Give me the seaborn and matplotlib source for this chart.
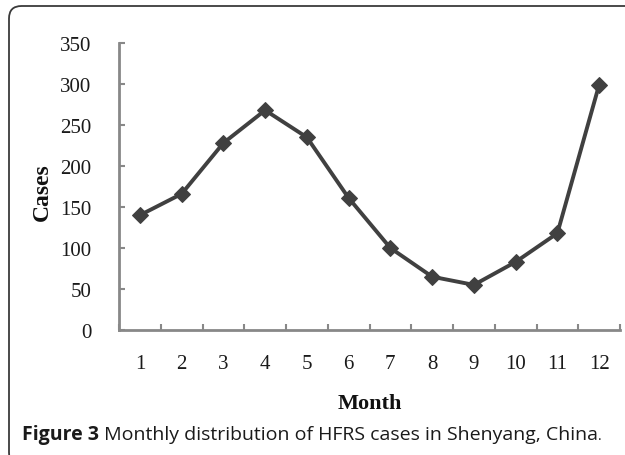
import numpy as np
import pandas as pd
import matplotlib
matplotlib.use("Agg")
import matplotlib.pyplot as plt
import seaborn as sns
from matplotlib.patches import FancyBboxPatch
from matplotlib.ticker import FixedLocator

months = ["1", "2", "3", "4", "5", "6", "7", "8", "9", "10", "11", "12"]
cases = [140, 166, 228, 268, 235, 161, 100, 65, 55, 83, 118, 299]
y_ticks = [0, 50, 100, 150, 200, 250, 300, 350]
x_label = "Month"
y_label = "Cases"
caption_bold = "Figure 3"
caption_text = " Monthly distribution of HFRS cases in Shenyang, China"

sns.set_theme(style="white")
plt.rcParams["font.family"] = ["Liberation Serif", "DejaVu Serif"]

W, H = 625, 456
fig = plt.figure(figsize=(W / 100, H / 100), dpi=100)
fig.patch.set_facecolor("white")

# outer rounded frame (extends past right and bottom edges)
frame = FancyBboxPatch((9 / W, -10 / H), (720 - 9) / W, (H - 7 + 10) / H,
                       boxstyle="round,pad=0,rounding_size=0.02",
                       transform=fig.transFigure, fill=False,
                       edgecolor="#3a3a3a", linewidth=1.3, mutation_aspect=W / H)
fig.patches.append(frame)

ax = fig.add_axes([119 / W, 1 - 331 / H, (620 - 119) / W, (331 - 44) / H])
ax.set_facecolor("none")

df = pd.DataFrame({"pos": np.arange(len(months)), "cases": cases})
sns.lineplot(data=df, x="pos", y="cases", ax=ax, sort=False,
             color="#404040", linewidth=2.8, marker="D", markersize=8.5,
             markeredgecolor="#404040", markerfacecolor="#404040")

ax.set_xlim(-0.5, len(months) - 0.5)
ax.set_ylim(0, 350)
ax.set_xticks(np.arange(len(months)))
ax.set_xticklabels(months)
ax.xaxis.set_minor_locator(FixedLocator(np.arange(len(months) + 1) - 0.5))
ax.set_yticks(y_ticks)
ax.set_yticklabels([str(v) for v in y_ticks])

for s in ["top", "right"]:
    ax.spines[s].set_visible(False)
for s in ["left", "bottom"]:
    ax.spines[s].set_color("#888888")
    ax.spines[s].set_linewidth(2)

ax.tick_params(axis="x", which="major", length=0, pad=17, labelsize=15,
               labelcolor="#1a1a1a")
ax.tick_params(axis="x", which="minor", direction="in", length=4, width=1.5,
               color="#888888", bottom=True)
ax.tick_params(axis="y", which="major", direction="in", length=4, width=1.5,
               color="#888888", pad=20, labelsize=15, labelcolor="#1a1a1a", left=True)

ax.set_xlabel("")
ax.set_ylabel("")
fig.text(370 / W, 1 - 404 / H, x_label, ha="center", va="center",
         fontsize=16, fontweight="bold", color="#111111")
fig.text(42 / W, 1 - 192 / H, y_label, ha="center", va="center", rotation=90,
         fontsize=17, fontweight="bold", color="#111111")

# caption
cap_y = 1 - 440 / H
cap_fs = 14
t1 = fig.text(22 / W, cap_y, caption_bold, ha="left", va="baseline",
              fontsize=cap_fs, fontweight="bold", family=["Open Sans", "DejaVu Sans"],
              color="#1a1a1a")
fig.canvas.draw()
r = fig.canvas.get_renderer()
bb = t1.get_window_extent(r)
t2 = fig.text(bb.x1 / W, cap_y, caption_text, ha="left", va="baseline",
              fontsize=cap_fs, family=["Open Sans", "DejaVu Sans"], color="#1a1a1a")
bb2 = t2.get_window_extent(r)
fig.text(bb2.x1 / W, cap_y, ".", ha="left", va="baseline",
         fontsize=10, family=["Open Sans", "DejaVu Sans"], color="#1a1a1a")

fig.savefig("out.png", dpi=100, facecolor="white")
